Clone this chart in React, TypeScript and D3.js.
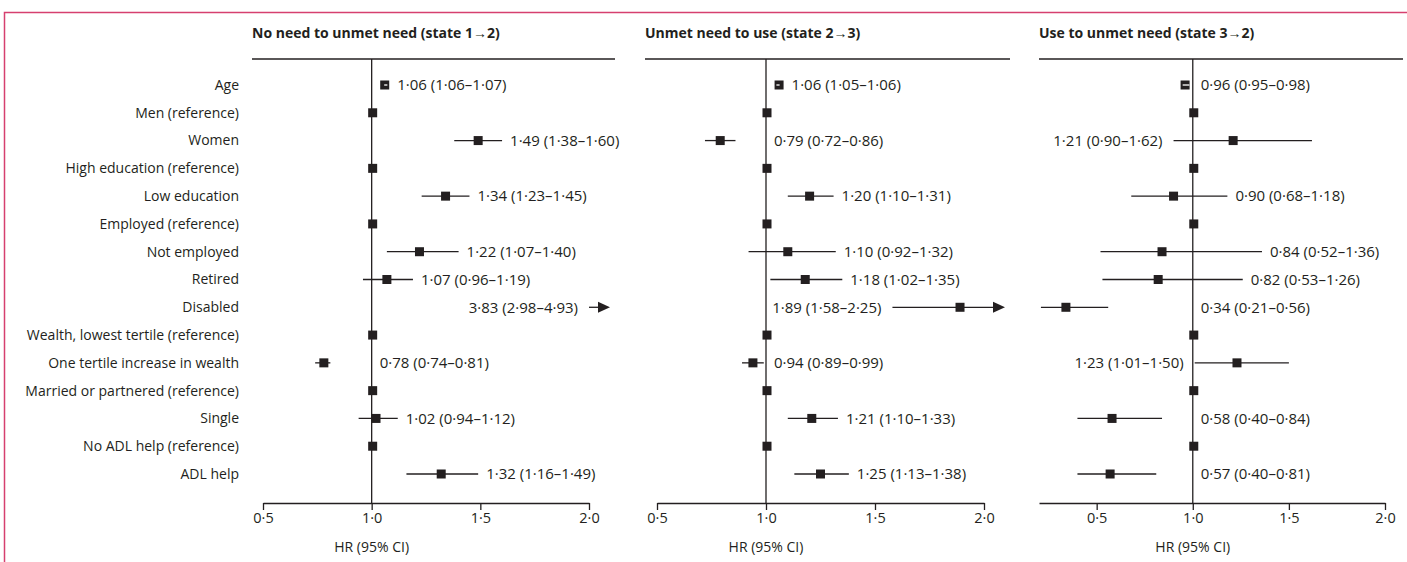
import React, { useEffect, useRef } from "react";
import * as d3 from "d3";

// rows of the forest plot, top to bottom
const rowLabels = [
  "Age",
  "Men (reference)",
  "Women",
  "High education (reference)",
  "Low education",
  "Employed (reference)",
  "Not employed",
  "Retired",
  "Disabled",
  "Wealth, lowest tertile (reference)",
  "One tertile increase in wealth",
  "Married or partnered (reference)",
  "Single",
  "No ADL help (reference)",
  "ADL help",
];

// [HR, lower, upper]; null = reference category
const noNeedToUnmet = [
  [1.06, 1.06, 1.07], null, [1.49, 1.38, 1.6], null, [1.34, 1.23, 1.45], null,
  [1.22, 1.07, 1.4], [1.07, 0.96, 1.19], [3.83, 2.98, 4.93], null,
  [0.78, 0.74, 0.81], null, [1.02, 0.94, 1.12], null, [1.32, 1.16, 1.49],
];
const unmetToUse = [
  [1.06, 1.05, 1.06], null, [0.79, 0.72, 0.86], null, [1.2, 1.1, 1.31], null,
  [1.1, 0.92, 1.32], [1.18, 1.02, 1.35], [1.89, 1.58, 2.25], null,
  [0.94, 0.89, 0.99], null, [1.21, 1.1, 1.33], null, [1.25, 1.13, 1.38],
];
const useToUnmet = [
  [0.96, 0.95, 0.98], null, [1.21, 0.9, 1.62], null, [0.9, 0.68, 1.18], null,
  [0.84, 0.52, 1.36], [0.82, 0.53, 1.26], [0.34, 0.21, 0.56], null,
  [1.23, 1.01, 1.5], null, [0.58, 0.4, 0.84], null, [0.57, 0.4, 0.81],
];

const panelTitles = [
  "No need to unmet need (state 1\u21922)",
  "Unmet need to use (state 2\u21923)",
  "Use to unmet need (state 3\u21922)",
];
const tickValues = [0.5, 1, 1.5, 2];
const axisTitle = "HR (95% CI)";

const FONT = "'Open Sans', sans-serif";
const INK = "#231f20";

const fmt = (v: number) => v.toFixed(2).replace(".", "\u00b7");

export default function App() {
  const ref = useRef<SVGSVGElement>(null);

  useEffect(() => {
    const svg = d3.select(ref.current);
    svg.selectAll("*").remove();

    const width = 1407, height = 562;
    const axisY = 503, headY = 59;
    const sq = 9;

    // pink frame
    svg.append("path")
      .attr("d", `M4.5,${height} V12.5 H${width}`)
      .attr("fill", "none")
      .attr("stroke", "#d6406f")
      .attr("stroke-width", 1.5);

    const y = d3.scalePoint<string>().domain(rowLabels).range([85, 474]);

    svg.append("g").selectAll("text")
      .data(rowLabels)
      .enter()
      .append("text")
      .attr("x", 239)
      .attr("y", d => y(d)!)
      .attr("dy", "0.35em")
      .attr("text-anchor", "end")
      .attr("font-family", FONT)
      .attr("font-size", 14)
      .attr("fill", INK)
      .text(d => d);

    const panels = [
      { data: noNeedToUnmet, domain: [0.5, 2], range: [263, 589], head: [252, 615], left: ["Disabled"] },
      { data: unmetToUse, domain: [0.5, 2], range: [657, 984], head: [645, 1010], left: ["Disabled"] },
      { data: useToUnmet, domain: [0.2, 2], range: [1039, 1385], head: [1039, 1403], left: ["Women", "One tertile increase in wealth"] },
    ];

    panels.forEach((p, pi) => {
      const x = d3.scaleLinear().domain(p.domain).range(p.range);
      const g = svg.append("g");
      const x1 = x(1);

      g.append("text")
        .attr("x", p.head[0])
        .attr("y", 38)
        .attr("font-family", FONT)
        .attr("font-size", 14)
        .attr("font-weight", "bold")
        .attr("fill", INK)
        .text(panelTitles[pi]);

      g.append("line")
        .attr("x1", p.head[0]).attr("x2", p.head[1])
        .attr("y1", headY).attr("y2", headY)
        .attr("stroke", INK).attr("stroke-width", 1.3);

      g.append("line")
        .attr("x1", x1).attr("x2", x1)
        .attr("y1", headY).attr("y2", axisY)
        .attr("stroke", INK).attr("stroke-width", 1.3);

      const axis = g.append("g")
        .attr("transform", `translate(0,${axisY})`)
        .call(d3.axisBottom(x).tickValues(tickValues).tickSize(7).tickSizeOuter(0)
          .tickFormat(d => (d as number).toFixed(1).replace(".", "\u00b7")));
      axis.select(".domain").attr("stroke", INK).attr("stroke-width", 1.3);
      axis.selectAll(".tick line").attr("stroke", INK).attr("stroke-width", 1.3);
      axis.selectAll(".tick text")
        .attr("font-family", FONT).attr("font-size", 14.5).attr("fill", INK);

      g.append("text")
        .attr("x", x1)
        .attr("y", 547)
        .attr("dy", "0.35em")
        .attr("text-anchor", "middle")
        .attr("font-family", FONT)
        .attr("font-size", 14)
        .attr("fill", INK)
        .text(axisTitle);

      const [dMin, dMax] = p.domain;
      const [rMin, rMax] = p.range;
      const clampPx = (v: number) => Math.min(Math.max(x(v), rMin), rMax);

      p.data.forEach((d, i) => {
        const cy = y(rowLabels[i])!;
        if (!d) {
          g.append("rect")
            .attr("x", x1 - sq / 2 + 1).attr("y", cy - sq / 2)
            .attr("width", sq).attr("height", sq)
            .attr("fill", INK);
          return;
        }
        const [hr, lo, hi] = d;
        const loPx = clampPx(lo);
        const hiPx = clampPx(hi);
        const over = hi > dMax;
        const tip = rMax + 21;

        if (over) {
          g.append("line")
            .attr("x1", loPx).attr("x2", tip - 10)
            .attr("y1", cy).attr("y2", cy)
            .attr("stroke", INK).attr("stroke-width", 1.3);
          g.append("path")
            .attr("d", `M${tip},${cy} L${tip - 12},${cy - 5.5} L${tip - 12},${cy + 5.5} Z`)
            .attr("fill", INK);
        } else {
          g.append("line")
            .attr("x1", loPx).attr("x2", hiPx)
            .attr("y1", cy).attr("y2", cy)
            .attr("stroke", INK).attr("stroke-width", 1.3);
        }

        let sqRight = -Infinity;
        if (hr >= dMin && hr <= dMax) {
          const cx = x(hr);
          sqRight = cx + sq / 2;
          g.append("rect")
            .attr("x", cx - sq / 2).attr("y", cy - sq / 2)
            .attr("width", sq).attr("height", sq)
            .attr("fill", INK);
          // narrow interval shown in white inside the box
          if (x(hi) - x(lo) < sq) {
            g.append("line")
              .attr("x1", x(lo) - 0.5).attr("x2", x(hi) + 0.5)
              .attr("y1", cy).attr("y2", cy)
              .attr("stroke", "#fff").attr("stroke-width", 1.3);
          }
        }

        const label = `${fmt(hr)} (${fmt(lo)}\u2013${fmt(hi)})`;
        const onLeft = p.left.includes(rowLabels[i]);
        g.append("text")
          .attr("x", onLeft ? loPx - 11 : Math.max(hiPx, x1, sqRight) + 8)
          .attr("y", cy)
          .attr("dy", "0.35em")
          .attr("text-anchor", onLeft ? "end" : "start")
          .attr("font-family", FONT)
          .attr("font-size", 15)
          .attr("fill", INK)
          .text(label);
      });
    });
  }, []);

  return (
    <svg
      ref={ref}
      width={1407}
      height={562}
      style={{ position: "absolute", left: 0, top: 0, background: "#fff" }}
    />
  );
}
